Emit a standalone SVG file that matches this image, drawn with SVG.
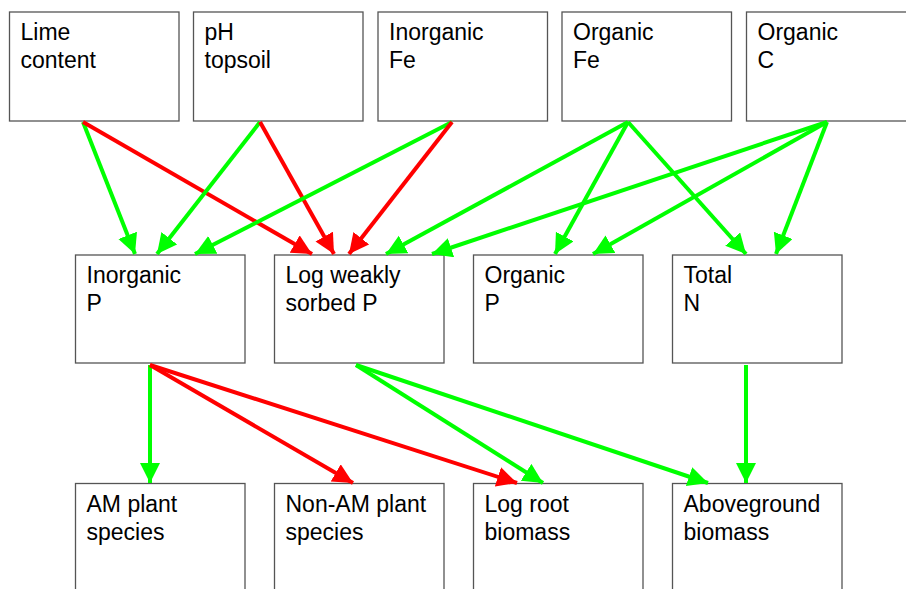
<svg xmlns="http://www.w3.org/2000/svg" width="906" height="589" viewBox="0 0 906 589">
<style>
.box{fill:#fff;stroke:#555;stroke-width:1.3}
.t{font-family:"Liberation Sans",Arial,sans-serif;font-size:23px;fill:#000}
.g{stroke:#00ff00;stroke-width:4;fill:none;marker-end:url(#ag)}
.r{stroke:#ff0000;stroke-width:4;fill:none;marker-end:url(#ar)}
</style>
<defs>
<marker id="ag" markerUnits="userSpaceOnUse" markerWidth="22" markerHeight="22" refX="20" refY="10" orient="auto"><path d="M0,0 L20,10 L0,20 z" fill="#00ff00"/></marker>
<marker id="ar" markerUnits="userSpaceOnUse" markerWidth="22" markerHeight="22" refX="20" refY="10" orient="auto"><path d="M0,0 L20,10 L0,20 z" fill="#ff0000"/></marker>
</defs>
<rect width="906" height="589" fill="#fff"/>
<g id="lime"><rect class="box" x="9.5" y="12" width="169.5" height="109"/><text class="t" x="20.5" y="40">Lime</text><text class="t" x="20.5" y="68">content</text></g>
<g id="ph"><rect class="box" x="193.5" y="12" width="169.5" height="109"/><text class="t" x="204.5" y="40">pH</text><text class="t" x="204.5" y="68">topsoil</text></g>
<g id="inorgfe"><rect class="box" x="378" y="12" width="169.5" height="109"/><text class="t" x="389" y="40">Inorganic</text><text class="t" x="389" y="68">Fe</text></g>
<g id="orgfe"><rect class="box" x="562" y="12" width="169.5" height="109"/><text class="t" x="573" y="40">Organic</text><text class="t" x="573" y="68">Fe</text></g>
<g id="orgc"><rect class="box" x="746.5" y="12" width="169.5" height="109"/><text class="t" x="757.5" y="40">Organic</text><text class="t" x="757.5" y="68">C</text></g>
<g id="inorgp"><rect class="box" x="75.5" y="255" width="169.5" height="108"/><text class="t" x="86.5" y="283">Inorganic</text><text class="t" x="86.5" y="311">P</text></g>
<g id="logws"><rect class="box" x="274.5" y="255" width="169.5" height="108"/><text class="t" x="285.5" y="283">Log weakly</text><text class="t" x="285.5" y="311">sorbed P</text></g>
<g id="orgp"><rect class="box" x="473.5" y="255" width="169.5" height="108"/><text class="t" x="484.5" y="283">Organic</text><text class="t" x="484.5" y="311">P</text></g>
<g id="totn"><rect class="box" x="672.5" y="255" width="169.5" height="108"/><text class="t" x="683.5" y="283">Total</text><text class="t" x="683.5" y="311">N</text></g>
<g id="am"><rect class="box" x="75.5" y="483.5" width="169.5" height="120"/><text class="t" x="86.5" y="512">AM plant</text><text class="t" x="86.5" y="540">species</text></g>
<g id="nonam"><rect class="box" x="274.5" y="483.5" width="169.5" height="120"/><text class="t" x="285.5" y="512">Non-AM plant</text><text class="t" x="285.5" y="540">species</text></g>
<g id="root"><rect class="box" x="473.5" y="483.5" width="169.5" height="120"/><text class="t" x="484.5" y="512">Log root</text><text class="t" x="484.5" y="540">biomass</text></g>
<g id="above"><rect class="box" x="672.5" y="483.5" width="169.5" height="120"/><text class="t" x="683.5" y="512">Aboveground</text><text class="t" x="683.5" y="540">biomass</text></g>
<g id="connectors">
<line class="g" x1="83" y1="122" x2="135" y2="254"/>
<line class="r" x1="83" y1="122" x2="312" y2="254"/>
<line class="g" x1="260" y1="122" x2="157" y2="254"/>
<line class="r" x1="260" y1="122" x2="334" y2="254"/>
<line class="g" x1="452" y1="122" x2="195" y2="254"/>
<line class="r" x1="452" y1="122" x2="349" y2="254"/>
<line class="g" x1="628" y1="122" x2="386" y2="254"/>
<line class="g" x1="628" y1="122" x2="555" y2="254"/>
<line class="g" x1="628" y1="122" x2="746" y2="254"/>
<line class="g" x1="827" y1="122" x2="432" y2="254"/>
<line class="g" x1="827" y1="122" x2="593" y2="254"/>
<line class="g" x1="827" y1="122" x2="776" y2="254"/>
<line class="g" x1="150" y1="365" x2="150" y2="483"/>
<line class="r" x1="150" y1="365" x2="353" y2="483"/>
<line class="r" x1="150" y1="365" x2="517" y2="483"/>
<line class="g" x1="356" y1="365" x2="543" y2="483"/>
<line class="g" x1="356" y1="365" x2="708" y2="483"/>
<line class="g" x1="746" y1="365" x2="746" y2="483"/>
</g>
</svg>
